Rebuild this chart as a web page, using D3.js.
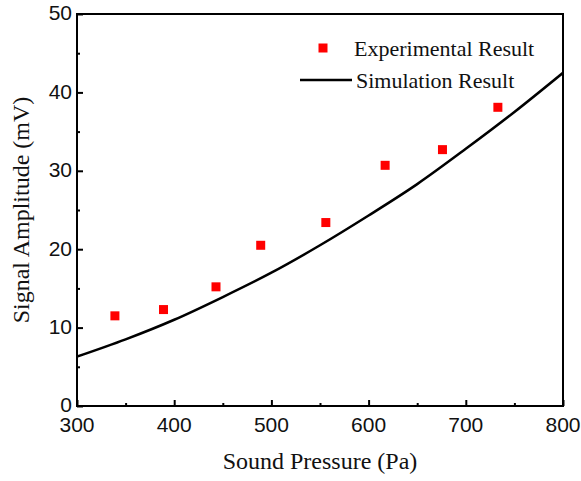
<!DOCTYPE html>
<html>
<head>
<meta charset="utf-8">
<script src="https://cdn.jsdelivr.net/npm/d3@7"></script>
<style>
  body { margin: 0; background: #fff; }
  .tick-label { font-family: "Liberation Sans", Arial, sans-serif; font-size: 21px; fill: #111; }
  .axis-title { font-family: "Liberation Serif", "Times New Roman", serif; font-size: 24px; fill: #111; }
  .legend-text { font-family: "Liberation Serif", "Times New Roman", serif; font-size: 22px; fill: #111; }
</style>
</head>
<body>
<div id="chart"></div>
<script>
// values
const expPressure = [339, 389, 443, 489, 556, 617, 676, 733];
const expAmplitude = [11.5, 12.3, 15.2, 20.5, 23.4, 30.7, 32.7, 38.1];

const simPressure = [300, 350, 400, 450, 500, 550, 600, 650, 700, 750, 800];
const simAmplitude = [6.3, 8.5, 11.0, 13.9, 17.0, 20.5, 24.3, 28.3, 32.8, 37.5, 42.5];

const xTicks = [300, 400, 500, 600, 700, 800];
const yTicks = [0, 10, 20, 30, 40, 50];

const w = 581, h = 481;
const padLeft = 77, padRight = 563, padTop = 14, padBottom = 406;

const svg = d3.select("#chart").append("svg")
    .attr("width", w)
    .attr("height", h);

const xScale = d3.scaleLinear().domain([300, 800]).range([padLeft, padRight]);
const yScale = d3.scaleLinear().domain([0, 50]).range([padBottom, padTop]);

// simulation curve (clipped to plot area)
svg.append("clipPath").attr("id", "clip")
    .append("rect")
    .attr("x", padLeft).attr("y", padTop)
    .attr("width", padRight - padLeft).attr("height", padBottom - padTop);

let simData = simPressure.map(function(p, i) { return {x: p, y: simAmplitude[i]}; });
let line = d3.line()
    .x(function(d) { return xScale(d.x); })
    .y(function(d) { return yScale(d.y); })
    .curve(d3.curveMonotoneX);

svg.append("path")
    .datum(simData)
    .attr("clip-path", "url(#clip)")
    .attr("d", line)
    .attr("fill", "none")
    .attr("stroke", "#000")
    .attr("stroke-width", 2.5);

// experimental points
let expData = expPressure.map(function(p, i) { return {x: p, y: expAmplitude[i]}; });
let sq = 9;
svg.selectAll("rect.pt")
    .data(expData)
    .enter()
    .append("rect")
    .attr("class", "pt")
    .attr("x", function(d) { return xScale(d.x) - sq / 2; })
    .attr("y", function(d) { return yScale(d.y) - sq / 2; })
    .attr("width", sq)
    .attr("height", sq)
    .attr("fill", "#ff0000");

// axes, ticks pointing inward
let xAxis = d3.axisTop(xScale)
    .tickValues(d3.range(300, 801, 50))
    .tickSize(0)
    .tickFormat("");
let xg = svg.append("g").attr("transform", "translate(0," + padBottom + ")").call(xAxis);
xg.selectAll(".tick line")
    .attr("y2", function(d) { return d % 100 === 0 ? -6 : -3; })
    .attr("stroke-width", 2);
xg.select(".domain").remove();

let yAxis = d3.axisRight(yScale)
    .tickValues(d3.range(0, 51, 5))
    .tickSize(0)
    .tickFormat("");
let yg = svg.append("g").attr("transform", "translate(" + padLeft + ",0)").call(yAxis);
yg.selectAll(".tick line")
    .attr("x2", function(d) { return d % 10 === 0 ? 6 : 3; })
    .attr("stroke-width", 2);
yg.select(".domain").remove();

// frame
svg.append("rect")
    .attr("x", padLeft).attr("y", padTop)
    .attr("width", padRight - padLeft).attr("height", padBottom - padTop)
    .attr("fill", "none")
    .attr("stroke", "#000")
    .attr("stroke-width", 2);

// tick labels
svg.selectAll("text.xl")
    .data(xTicks)
    .enter()
    .append("text")
    .attr("class", "tick-label")
    .attr("x", function(d) { return xScale(d); })
    .attr("y", padBottom + 26)
    .attr("text-anchor", "middle")
    .text(function(d) { return d; });

svg.selectAll("text.yl")
    .data(yTicks)
    .enter()
    .append("text")
    .attr("class", "tick-label")
    .attr("x", padLeft - 5)
    .attr("y", function(d) { return yScale(d) - 1; })
    .attr("dy", "0.35em")
    .attr("text-anchor", "end")
    .text(function(d) { return d; });

// axis titles
svg.append("text")
    .attr("class", "axis-title")
    .attr("x", (padLeft + padRight) / 2)
    .attr("y", 469)
    .attr("text-anchor", "middle")
    .text("Sound Pressure (Pa)");

svg.append("text")
    .attr("class", "axis-title")
    .attr("transform", "translate(29," + ((padTop + padBottom) / 2) + ") rotate(-90)")
    .attr("text-anchor", "middle")
    .text("Signal Amplitude (mV)");

// legend
svg.append("rect")
    .attr("x", 323 - sq / 2).attr("y", 48 - sq / 2)
    .attr("width", sq).attr("height", sq)
    .attr("fill", "#ff0000");
svg.append("text")
    .attr("class", "legend-text")
    .attr("x", 354).attr("y", 48).attr("dy", "0.35em")
    .text("Experimental Result");

svg.append("line")
    .attr("x1", 300).attr("x2", 352)
    .attr("y1", 80).attr("y2", 80)
    .attr("stroke", "#000").attr("stroke-width", 2.5);
svg.append("text")
    .attr("class", "legend-text")
    .attr("x", 356).attr("y", 80).attr("dy", "0.35em")
    .text("Simulation Result");
</script>
</body>
</html>
